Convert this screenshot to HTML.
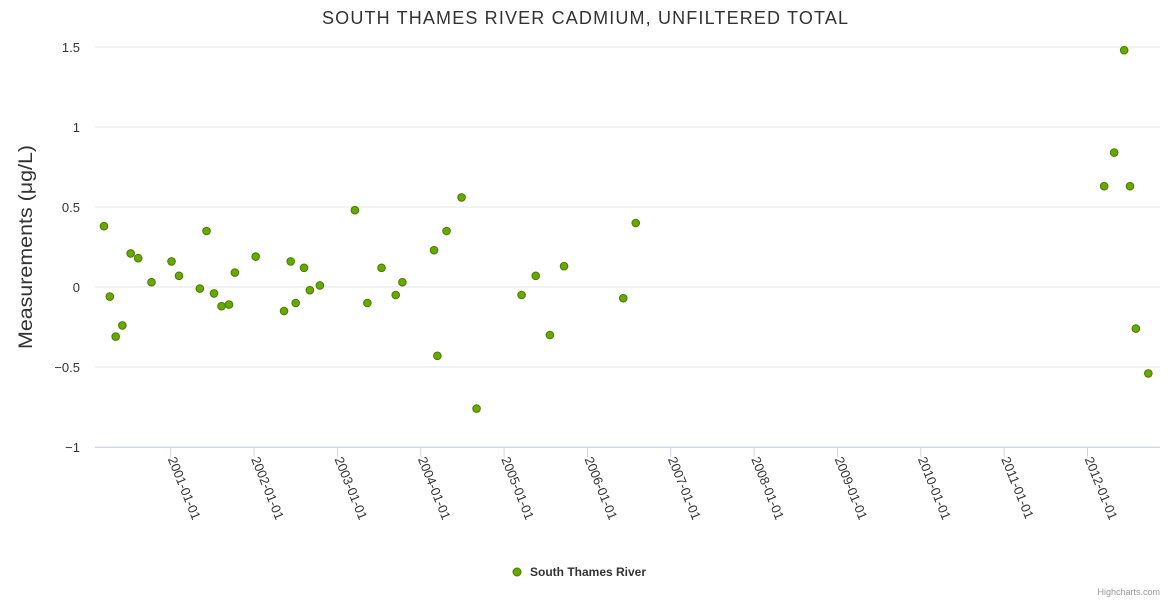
<!DOCTYPE html>
<html><head><meta charset="utf-8"><style>
body{margin:0;background:#fff;}
svg text{font-family:"Liberation Sans",sans-serif;}
</style></head><body>
<svg id="chart" width="1170" height="600" xmlns="http://www.w3.org/2000/svg">
<text x="585" y="24" text-anchor="middle" font-size="18" fill="#333" textLength="526" lengthAdjust="spacing">SOUTH THAMES RIVER CADMIUM, UNFILTERED TOTAL</text>
<text transform="translate(32,247) rotate(-90)" text-anchor="middle" font-size="19" fill="#333" textLength="204" lengthAdjust="spacingAndGlyphs">Measurements (μg/L)</text>
<g id="grid"></g><g id="xaxis"></g><g id="points"></g>
<g>
<circle cx="517" cy="572" r="4" fill="#66aa00" stroke="#4a7a00"/>
<text x="530" y="576" font-size="12" font-weight="bold" fill="#333">South Thames River</text>
</g>
<text x="1160" y="595" text-anchor="end" font-size="9" fill="#999">Highcharts.com</text>
</svg>
<script>
const yTicks=[-1,-0.5,0,0.5,1,1.5];
const yTickLabels=["−1","−0.5","0","0.5","1","1.5"];
const xTickYears=[2001,2002,2003,2004,2005,2006,2007,2008,2009,2010,2011,2012];
const dates=[2000.20,2000.27,2000.34,2000.42,2000.52,2000.61,2000.77,2001.01,2001.10,2001.35,2001.43,2001.52,2001.61,2001.70,2001.77,2002.02,2002.36,2002.44,2002.50,2002.60,2002.67,2002.79,2003.21,2003.36,2003.53,2003.70,2003.78,2004.16,2004.20,2004.31,2004.49,2004.67,2005.21,2005.38,2005.55,2005.72,2006.43,2006.58,2012.20,2012.32,2012.44,2012.51,2012.58,2012.73];
const values=[0.38,-0.06,-0.31,-0.24,0.21,0.18,0.03,0.16,0.07,-0.01,0.35,-0.04,-0.12,-0.11,0.09,0.19,-0.15,0.16,-0.10,0.12,-0.02,0.01,0.48,-0.10,0.12,-0.05,0.03,0.23,-0.43,0.35,0.56,-0.76,-0.05,0.07,-0.30,0.13,-0.07,0.40,0.63,0.84,1.48,0.63,-0.26,-0.54];
const NS="http://www.w3.org/2000/svg";
const L=95,R=1160,T=47,B=447;
const xMin=2000.092,xMax=2012.87;
const xs=v=>L+(v-xMin)/(xMax-xMin)*(R-L);
const ys=v=>B-(v-(-1))/(2.5)*(B-T);
function mk(t,a,p){const e=document.createElementNS(NS,t);for(const k in a)e.setAttribute(k,a[k]);p.appendChild(e);return e;}
const g=document.getElementById('grid');
yTicks.forEach((t,i)=>{
 const ln=mk('line',{x1:L,x2:R,y1:ys(t),y2:ys(t),stroke:'#e6e6e6'},g);
 
 
 const tx=mk('text',{x:L-15,y:ys(t)+5,'text-anchor':'end','font-size':13,fill:'#333'},g);
 tx.textContent=yTickLabels[i];
 
 
});
const xa=document.getElementById('xaxis');
const ax=mk('line',{x1:L,x2:R,y1:B+0.5,y2:B+0.5,stroke:'#ccd6eb'},xa);


xTickYears.forEach(y=>{
 const x=xs(y);
 const tk=mk('line',{x1:x,x2:x,y1:B,y2:B+10,stroke:'#ccd6eb'},xa);
 
 
 const tx=mk('text',{x:0,y:0,'font-size':13,fill:'#333',transform:`translate(${x-3},${B+12}) rotate(68)`},xa);
 tx.textContent=y+'-01-01';
 
 
});
const pg=document.getElementById('points');
dates.forEach((d,i)=>{
 const c=mk('circle',{cx:xs(d),cy:ys(values[i]),r:3.8,fill:'#66aa00',stroke:'#4a7a00','stroke-width':1},pg);
 
 
});
</script>
</body></html>
